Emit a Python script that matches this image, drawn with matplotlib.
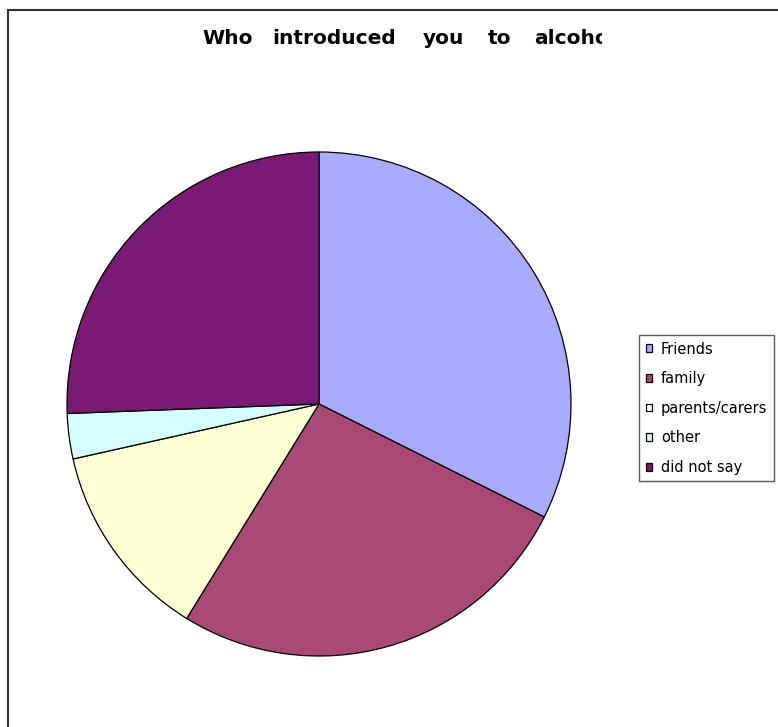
import matplotlib

matplotlib.use("Agg")
import matplotlib.pyplot as plt
from matplotlib.patches import Rectangle
from matplotlib.transforms import Bbox

# --- data ------------------------------------------------------------------
labels = ["Friends", "family", "parents/carers", "other", "did not say"]
shares = [32.4, 26.4, 12.7, 2.9, 25.6]
colors = ["#AAAAFF", "#A84A75", "#FFFFD5", "#D5FFFF", "#7B1A74"]

title_words = ["Who", "introduced", "you", "to", "alcohol?"]
title_x = [202, 272, 423, 488, 534]      # word starts, px from left

W, H = 778, 727
fig = plt.figure(figsize=(W / 100, H / 100), dpi=100)

# outer chart frame (only left + top edges fall inside the image)
fig.patches.append(Rectangle((8 / W, -0.05), 1.2, 1 - 10 / H + 0.05,
                             transform=fig.transFigure, fill=False,
                             edgecolor="#333333", lw=1.5))

# --- pie -------------------------------------------------------------------
cx, cy, r = 319, H - 404, 252
ax = fig.add_axes([(cx - r) / W, (cy - r) / H, 2 * r / W, 2 * r / H])
wedges, _ = ax.pie(shares, colors=colors, startangle=90, counterclock=False,
                   wedgeprops=dict(edgecolor="black", linewidth=0.9))
ax.set_xlim(-1, 1)
ax.set_ylim(-1, 1)
ax.set_aspect("auto")
ax.axis("off")

# --- title (clipped on the right, as in the original) ----------------------
clip = Bbox.from_extents(0, 0, 602, H)
for word, x in zip(title_words, title_x):
    t = fig.text(x / W, 1 - 44 / H, word, fontsize=14.5, fontweight="bold",
                 family="DejaVu Sans", ha="left", va="baseline")
    t.set_clip_box(clip)
    t.set_clip_on(True)

# --- legend ----------------------------------------------------------------
leg = fig.legend(wedges, labels, loc="upper left",
                 bbox_to_anchor=(639 / W, 1 - 335 / H),
                 bbox_transform=fig.transFigure,
                 prop=dict(family="DejaVu Sans", size=10.5),
                 frameon=True, fancybox=False, shadow=False,
                 handlelength=0.45, handleheight=0.45, handletextpad=0.6,
                 labelspacing=1.0, borderpad=0.45, borderaxespad=0)
leg.get_frame().set_edgecolor("#333333")
leg.get_frame().set_linewidth(1.0)

fig.savefig("out.png", dpi=100)
